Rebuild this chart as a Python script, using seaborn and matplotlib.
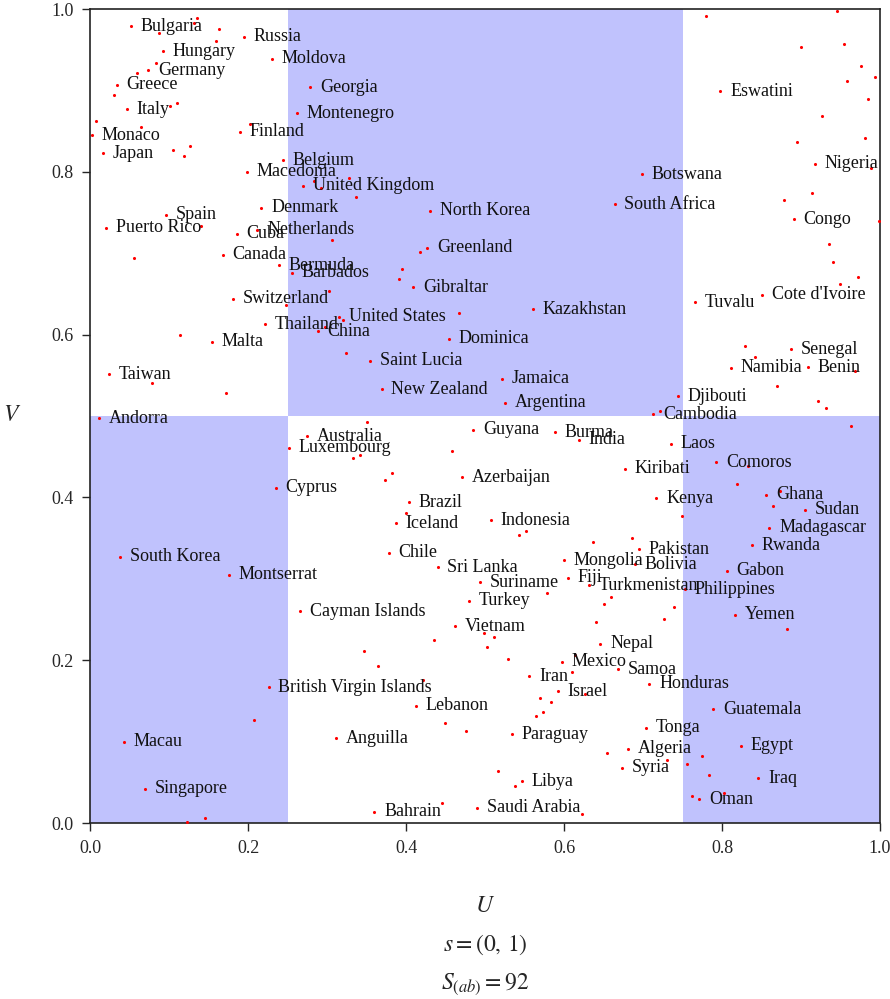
import pandas as pd
import seaborn as sns
import matplotlib.pyplot as plt
from matplotlib.patches import Rectangle


# labelled countries (U, V)
names = ["Bulgaria", "Russia", "Hungary", "Moldova", "Germany", "Greece", "Georgia", "Italy",
         "Montenegro", "Monaco", "Finland", "Japan", "Belgium", "Macedonia", "United Kingdom",
         "Spain", "Denmark", "Cuba", "Netherlands", "Puerto Rico", "Canada", "Bermuda", "Barbados",
         "Switzerland", "Thailand", "China", "United States", "Malta", "Taiwan", "Andorra",
         "Saint Lucia", "New Zealand", "North Korea", "Greenland", "Gibraltar", "Kazakhstan",
         "Dominica", "Jamaica", "Argentina", "Botswana", "South Africa", "Eswatini", "Nigeria",
         "Congo", "Tuvalu", "Cote d'Ivoire", "Senegal", "Namibia", "Benin", "Djibouti", "Cambodia",
         "Australia", "Luxembourg", "Cyprus", "Guyana", "Burma", "India", "Laos", "Comoros",
         "Azerbaijan", "Kiribati", "Ghana", "Kenya", "Sudan", "Brazil", "Iceland", "Indonesia",
         "Madagascar", "Chile", "South Korea", "Sri Lanka", "Mongolia", "Bolivia", "Pakistan",
         "Rwanda", "Montserrat", "Suriname", "Fiji", "Turkmenistan", "Philippines", "Gabon",
         "Turkey", "Cayman Islands", "Vietnam", "Yemen", "Nepal", "Mexico", "Samoa", "Iran",
         "Israel", "Honduras", "British Virgin Islands", "Lebanon", "Guatemala", "Macau",
         "Anguilla", "Paraguay", "Tonga", "Algeria", "Egypt", "Syria", "Iraq", "Libya",
         "Singapore", "Oman", "Bahrain", "Saudi Arabia"]
u_lab = [0.052, 0.195, 0.092, 0.230, 0.074, 0.034, 0.279, 0.047,
         0.262, 0.002, 0.190, 0.016, 0.244, 0.199, 0.270,
         0.096, 0.217, 0.186, 0.212, 0.020, 0.168, 0.239, 0.256,
         0.181, 0.222, 0.288, 0.315, 0.154, 0.024, 0.011,
         0.355, 0.369, 0.431, 0.427, 0.409, 0.561,
         0.454, 0.521, 0.525, 0.699, 0.664, 0.798, 0.918,
         0.891, 0.766, 0.851, 0.887, 0.811, 0.909, 0.744, 0.713,
         0.275, 0.252, 0.235, 0.485, 0.588, 0.619, 0.735, 0.793,
         0.471, 0.677, 0.856, 0.717, 0.905, 0.404, 0.387, 0.507,
         0.860, 0.378, 0.038, 0.440, 0.600, 0.690, 0.695,
         0.838, 0.176, 0.494, 0.605, 0.632, 0.753, 0.806,
         0.480, 0.266, 0.462, 0.816, 0.646, 0.597, 0.668, 0.556,
         0.592, 0.708, 0.226, 0.413, 0.789, 0.043,
         0.311, 0.534, 0.704, 0.681, 0.824, 0.673, 0.846, 0.547,
         0.070, 0.771, 0.360, 0.490]
v_lab = [0.979, 0.966, 0.948, 0.939, 0.925, 0.907, 0.904, 0.877,
         0.872, 0.845, 0.849, 0.823, 0.814, 0.800, 0.783,
         0.747, 0.756, 0.724, 0.729, 0.731, 0.698, 0.685, 0.676,
         0.644, 0.613, 0.604, 0.622, 0.591, 0.551, 0.497,
         0.568, 0.533, 0.752, 0.707, 0.658, 0.631,
         0.595, 0.546, 0.516, 0.797, 0.760, 0.899, 0.810,
         0.742, 0.640, 0.649, 0.582, 0.559, 0.560, 0.524, 0.502,
         0.475, 0.461, 0.412, 0.483, 0.480, 0.471, 0.466, 0.443,
         0.425, 0.435, 0.403, 0.399, 0.385, 0.394, 0.368, 0.372,
         0.363, 0.332, 0.327, 0.314, 0.323, 0.318, 0.336,
         0.341, 0.305, 0.296, 0.301, 0.292, 0.287, 0.310,
         0.273, 0.260, 0.242, 0.256, 0.220, 0.198, 0.189, 0.180,
         0.162, 0.171, 0.167, 0.144, 0.140, 0.100,
         0.104, 0.109, 0.117, 0.091, 0.095, 0.068, 0.055, 0.051,
         0.042, 0.029, 0.014, 0.019]

# points drawn without a name
u_other = [0.136, 0.132, 0.087, 0.163, 0.159, 0.083, 0.060, 0.030, 0.101, 0.110, 0.007, 0.065,
           0.105, 0.127, 0.119, 0.203, 0.141, 0.056,
           0.284, 0.292, 0.328, 0.337, 0.306, 0.418, 0.395, 0.391,
           0.780, 0.945, 0.900, 0.954, 0.976, 0.994, 0.958, 0.985, 0.927, 0.981, 0.895, 0.989,
           0.914, 0.878, 0.999, 0.936, 0.941, 0.972,
           0.248, 0.114, 0.079, 0.172,
           0.302, 0.467, 0.320, 0.298, 0.324, 0.351, 0.458, 0.342, 0.333, 0.382, 0.373, 0.400,
           0.721, 0.749, 0.552, 0.543, 0.637, 0.686,
           0.949, 0.829, 0.842, 0.968, 0.869, 0.922, 0.932, 0.963, 0.833, 0.819, 0.873, 0.865,
           0.208, 0.145, 0.123,
           0.436, 0.499, 0.503, 0.347, 0.364, 0.422, 0.449, 0.476, 0.445,
           0.579, 0.659, 0.650, 0.739, 0.726, 0.641, 0.511, 0.529, 0.614, 0.610, 0.627, 0.570,
           0.583, 0.574, 0.565, 0.655, 0.731, 0.516, 0.538, 0.623, 0.756,
           0.882, 0.775, 0.784, 0.802, 0.762]
v_other = [0.989, 0.983, 0.970, 0.975, 0.961, 0.934, 0.921, 0.894, 0.881, 0.885, 0.863, 0.855,
           0.827, 0.832, 0.819, 0.859, 0.733, 0.694,
           0.789, 0.780, 0.792, 0.769, 0.716, 0.702, 0.680, 0.668,
           0.992, 0.997, 0.953, 0.957, 0.930, 0.917, 0.912, 0.890, 0.868, 0.841, 0.836, 0.805,
           0.774, 0.765, 0.739, 0.711, 0.689, 0.671,
           0.636, 0.600, 0.541, 0.528,
           0.654, 0.626, 0.618, 0.609, 0.577, 0.493, 0.457, 0.452, 0.448, 0.430, 0.421, 0.381,
           0.506, 0.377, 0.359, 0.354, 0.345, 0.350,
           0.662, 0.586, 0.573, 0.555, 0.537, 0.519, 0.510, 0.488, 0.438, 0.416, 0.408, 0.390,
           0.126, 0.006, 0.001,
           0.225, 0.233, 0.216, 0.211, 0.193, 0.176, 0.123, 0.113, 0.024,
           0.283, 0.278, 0.269, 0.265, 0.251, 0.247, 0.229, 0.202, 0.207, 0.185, 0.158, 0.154,
           0.149, 0.136, 0.131, 0.086, 0.077, 0.064, 0.046, 0.011, 0.073,
           0.238, 0.082, 0.059, 0.037, 0.033]

# quadrant grid, shaded where (column + row) is even
grid_x = [0.0, 0.25, 0.75, 1.0]
grid_y = [0.0, 0.5, 1.0]
ticks = [0.0, 0.2, 0.4, 0.6, 0.8, 1.0]
s_pair = (0, 1)
s_ab = 92


sns.set_style("ticks")
plt.rcParams["font.family"] = ["Liberation Serif", "DejaVu Serif"]
plt.rcParams["mathtext.fontset"] = "stix"

df = pd.DataFrame({"u": u_lab + u_other, "v": v_lab + v_other})

fig = plt.figure(figsize=(8.9, 9.99), dpi=100)
ax = fig.add_axes([90 / 890, 1 - 823 / 999, 790 / 890, 814 / 999])

for i in range(len(grid_x) - 1):
    for j in range(len(grid_y) - 1):
        if (i + j) % 2 == 0:
            ax.add_patch(Rectangle((grid_x[i], grid_y[j]), grid_x[i + 1] - grid_x[i],
                                   grid_y[j + 1] - grid_y[j], facecolor="#c0c2fd",
                                   edgecolor="none", zorder=0))

sns.scatterplot(data=df, x="u", y="v", color="red", s=5, linewidth=0, ax=ax, zorder=3)

for name, u, v in zip(names, u_lab, v_lab):
    ax.annotate(name, (u, v), xytext=(7, 0), textcoords="offset points",
                va="center", ha="left", fontsize=13, color="#111111", zorder=4)

ax.set_xlim(0, 1)
ax.set_ylim(0, 1)
ax.set_xticks(ticks)
ax.set_yticks(ticks)
ax.set_xticklabels([f"{t:.1f}" for t in ticks])
ax.set_yticklabels([f"{t:.1f}" for t in ticks])
ax.tick_params(direction="out", length=6, width=1, labelsize=13, pad=6)
ax.set_xlabel("")
ax.set_ylabel("")
for sp in ax.spines.values():
    sp.set_visible(True)
    sp.set_linewidth(1.2)
    sp.set_color("#222222")

fig.text(12 / 890, 1 - 415 / 999, "$V$", fontsize=17, ha="center", va="center")
fig.text(485 / 890, 1 - 906 / 999, "$U$", fontsize=17, ha="center", va="center")
fig.text(485 / 890, 1 - 945 / 999, rf"$s = ({s_pair[0]},\,{s_pair[1]})$", fontsize=17,
         ha="center", va="center")
fig.text(485 / 890, 1 - 984 / 999, rf"$S_{{(ab)}} = {s_ab}$", fontsize=17,
         ha="center", va="center")

fig.savefig("out.png", dpi=100)
